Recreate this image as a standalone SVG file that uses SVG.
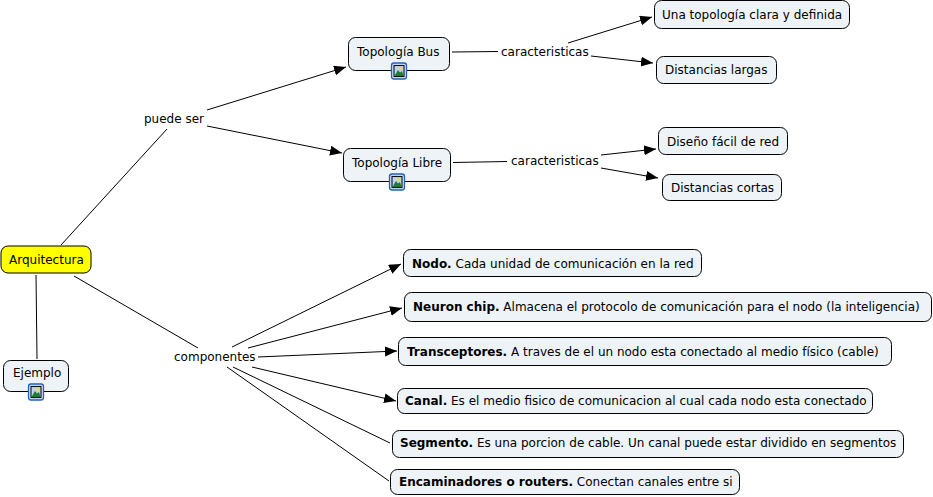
<svg xmlns="http://www.w3.org/2000/svg" width="933" height="497" viewBox="0 0 933 497">
<defs>
<marker id="a" markerUnits="userSpaceOnUse" markerWidth="13" markerHeight="11" refX="12" refY="5" orient="auto"><path d="M0 0L12 5L0 10Z" fill="#000"/></marker>
<g id="ic"><rect x="-7.5" y="-8" width="15" height="16" rx="2.500" fill="#cfe0f5" stroke="#2462b8" stroke-width="1.300"/><rect x="-5" y="-5.500" width="10" height="11" fill="#bcd4e8" stroke="#111" stroke-width="1.100"/><circle cx="2" cy="-2.500" r="1.700" fill="#f2d64b"/><path d="M-4.500 5L-1 -1L1 1.500L3 0L4.500 5Z" fill="#1f7a35"/></g>
</defs>
<style>
text{font-family:"DejaVu Sans",Verdana,sans-serif;font-size:12px;fill:#000}
.n{fill:#edf3f7;stroke:#000;stroke-width:1}
.l{fill:none;stroke:#000;stroke-width:1}
.h{marker-end:url(#a)}
.b{font-weight:bold}
</style>
<rect width="933" height="497" fill="#fff"/>
<g id="connectors">
<path class="l" d="M61 245L167 129"/>
<path class="l h" d="M207 110L346 67"/>
<path class="l h" d="M207 126L342 153"/>
<path class="l" d="M452 52L498 51.500"/>
<path class="l h" d="M568 43L652 17"/>
<path class="l h" d="M591 56L653 63"/>
<path class="l" d="M453 162.500L507 161.500"/>
<path class="l h" d="M601 155L656 149"/>
<path class="l h" d="M601 168L658 178"/>
<path class="l" d="M36 275L37 359"/>
<path class="l" d="M74 276L198 348"/>
<path class="l h" d="M232 347L401 264"/>
<path class="l h" d="M248 348L402 308"/>
<path class="l h" d="M258 357L397 351"/>
<path class="l h" d="M252 367L396 401"/>
<path class="l" d="M233 367L390 443"/>
<path class="l" d="M227 367L389 481"/>
</g>
<g id="arquitectura"><rect x="1" y="246" width="90" height="27" rx="7" fill="#ffff00" stroke="#000"/><text x="9" y="264">Arquitectura</text></g>
<g id="ejemplo"><rect x="3.500" y="360.500" width="65" height="31" rx="7" class="n"/><text x="13" y="377">Ejemplo</text><use href="#ic" x="36" y="392"/></g>
<g id="puede-ser"><text x="144" y="123">puede ser</text></g>
<g id="componentes"><text x="174" y="361">componentes</text></g>
<g id="c1"><text x="501" y="56">caracteristicas</text></g>
<g id="c2"><text x="511" y="165">caracteristicas</text></g>
<g id="bus"><rect x="348.500" y="37.500" width="101" height="33" rx="7" class="n"/><text x="357" y="56">Topología Bus</text><use href="#ic" x="399" y="71"/></g>
<g id="libre"><rect x="343.500" y="148.500" width="107" height="33" rx="7" class="n"/><text x="352" y="167">Topología Libre</text><use href="#ic" x="397" y="182"/></g>
<g id="t1"><rect x="654.500" y="0.500" width="195" height="28" rx="7" class="n"/><text x="662" y="19">Una topología clara y definida</text></g>
<g id="t2"><rect x="656.500" y="56.500" width="120" height="27" rx="7" class="n"/><text x="665" y="74">Distancias largas</text></g>
<g id="t3"><rect x="658.500" y="127.500" width="129" height="27" rx="7" class="n"/><text x="667" y="146">Diseño fácil de red</text></g>
<g id="t4"><rect x="662.500" y="174.500" width="119" height="26" rx="7" class="n"/><text x="671" y="192">Distancias cortas</text></g>
<g id="p1"><rect x="403.500" y="249.500" width="298" height="27" rx="7" class="n"/><text x="412" y="268"><tspan class="b">Nodo.</tspan> Cada unidad de comunicación en la red</text></g>
<g id="p2"><rect x="404.500" y="292.500" width="527" height="29" rx="7" class="n"/><text x="413" y="311"><tspan class="b">Neuron chip.</tspan> Almacena el protocolo de comunicación para el nodo (la inteligencia)</text></g>
<g id="p3"><rect x="398.500" y="337.500" width="493" height="28" rx="7" class="n"/><text x="407" y="356"><tspan class="b">Transceptores.</tspan> A traves de el un nodo esta conectado al medio físico (cable)</text></g>
<g id="p4"><rect x="397.500" y="388.500" width="475" height="25" rx="7" class="n"/><text x="405" y="405"><tspan class="b">Canal.</tspan> Es el medio fisico de comunicacion al cual cada nodo esta conectado</text></g>
<g id="p5"><rect x="392.500" y="430.500" width="511" height="27" rx="7" class="n"/><text x="400" y="447"><tspan class="b">Segmento.</tspan> Es una porcion de cable. Un canal puede estar dividido en segmentos</text></g>
<g id="p6"><rect x="390.500" y="469.500" width="349" height="25" rx="7" class="n"/><text x="399" y="486"><tspan class="b">Encaminadores o routers.</tspan> Conectan canales entre si</text></g>
</svg>
